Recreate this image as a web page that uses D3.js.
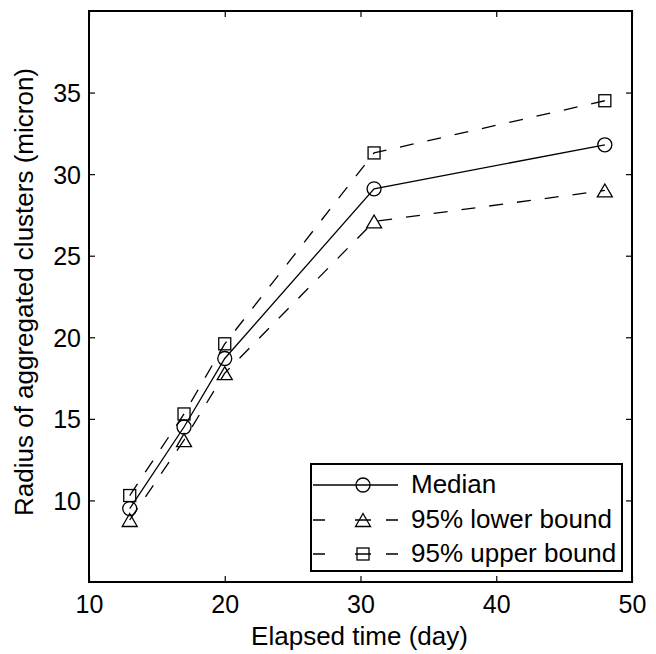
<!DOCTYPE html>
<html>
<head>
<meta charset="utf-8">
<script src="https://cdn.jsdelivr.net/npm/d3@7/dist/d3.min.js"></script>
<style>
  html, body { margin: 0; padding: 0; background: #fff; }
  svg { display: block; }
  text { font-family: "Liberation Sans", Arial, Helvetica, sans-serif; fill: #000; }
</style>
</head>
<body>
<svg id="chart" width="656" height="654"></svg>
<script>
// ---- Data ----
const days = [13, 17, 20, 31, 48];
const median = [9.5, 14.5, 18.7, 29.1, 31.8];
const lower95 = [8.8, 13.7, 17.8, 27.1, 29.0];
const upper95 = [10.3, 15.3, 19.6, 31.3, 34.5];
const xTicks = [10, 20, 30, 40, 50];
const yTicks = [10, 15, 20, 25, 30, 35];
const seriesNames = ["Median", "95% lower bound", "95% upper bound"];
const xLabel = "Elapsed time (day)";
const yLabel = "Radius of aggregated clusters (micron)";

// ---- Layout ----
const L = 89, T = 11, R = 632, B = 582;
const svg = d3.select("#chart");

const x = d3.scaleLinear().domain([10, 50]).range([L, R]);
const y = d3.scaleLinear().domain([5, 40]).range([B, T]);

const series = [
  { name: seriesNames[0], values: median, dash: null, marker: "circle" },
  { name: seriesNames[1], values: lower95, dash: "14,14", marker: "triangle" },
  { name: seriesNames[2], values: upper95, dash: "14,14", marker: "square" }
];

// ---- Axes (inward ticks on all four sides) ----
const tick = 6;
const gB = svg.append("g").attr("transform", `translate(0,${B})`)
  .call(d3.axisBottom(x).tickValues(xTicks).tickSizeInner(-tick).tickSizeOuter(0).tickFormat(d3.format("d")));
const gT = svg.append("g").attr("transform", `translate(0,${T})`)
  .call(d3.axisTop(x).tickValues(xTicks).tickSizeInner(-tick).tickSizeOuter(0).tickFormat(""));
const gL = svg.append("g").attr("transform", `translate(${L},0)`)
  .call(d3.axisLeft(y).tickValues(yTicks).tickSizeInner(-tick).tickSizeOuter(0).tickFormat(d3.format("d")));
const gR = svg.append("g").attr("transform", `translate(${R},0)`)
  .call(d3.axisRight(y).tickValues(yTicks).tickSizeInner(-tick).tickSizeOuter(0).tickFormat(""));

[gB, gT, gL, gR].forEach(g => {
  g.select(".domain").remove();
  g.selectAll(".tick line").attr("stroke", "#000").attr("stroke-width", 1.2);
});
gB.selectAll(".tick text").attr("y", 31).attr("dy", 0)
  .attr("font-size", 25).attr("font-family", null);
gL.selectAll(".tick text").attr("x", -8).attr("dy", "0.36em")
  .attr("font-size", 25).attr("font-family", null);

// Box
svg.append("rect")
  .attr("x", L).attr("y", T).attr("width", R - L).attr("height", B - T)
  .attr("fill", "none").attr("stroke", "#000").attr("stroke-width", 2);

// ---- Axis labels ----
svg.append("text")
  .attr("x", (L + R) / 2 - 1).attr("y", 645)
  .attr("text-anchor", "middle").attr("font-size", 26)
  .text(xLabel);
svg.append("text")
  .attr("transform", `translate(33,${292}) rotate(-90)`)
  .attr("text-anchor", "middle").attr("font-size", 26)
  .text(yLabel);

// ---- Markers ----
function drawMarker(g, type, cx, cy) {
  if (type === "circle") {
    g.append("circle").attr("cx", cx).attr("cy", cy).attr("r", 7)
      .attr("fill", "none").attr("stroke", "#000").attr("stroke-width", 1.3);
  } else if (type === "square") {
    g.append("rect").attr("x", cx - 6).attr("y", cy - 6).attr("width", 12).attr("height", 12)
      .attr("fill", "none").attr("stroke", "#000").attr("stroke-width", 1.3);
  } else {
    const h = 13, w = 15;
    g.append("path")
      .attr("d", `M${cx},${cy - h / 2}L${cx + w / 2},${cy + h / 2}L${cx - w / 2},${cy + h / 2}Z`)
      .attr("fill", "none").attr("stroke", "#000").attr("stroke-width", 1.3);
  }
}

// ---- Lines ----
const line = d3.line().x((d, i) => x(days[i])).y(d => y(d));
series.forEach(s => {
  const g = svg.append("g");
  g.append("path").datum(s.values)
    .attr("d", line)
    .attr("fill", "none").attr("stroke", "#000").attr("stroke-width", 1.3)
    .attr("stroke-dasharray", s.dash);
  s.values.forEach((v, i) => drawMarker(g, s.marker, x(days[i]), y(v)));
});

// ---- Legend ----
const lg = svg.append("g");
lg.append("rect").attr("x", 311).attr("y", 464).attr("width", 311).attr("height", 107)
  .attr("fill", "#fff").attr("stroke", "#000").attr("stroke-width", 2);
const rowY = [485, 520, 554];
series.forEach((s, i) => {
  const yy = rowY[i];
  lg.append("line").attr("x1", 313).attr("x2", 398).attr("y1", yy).attr("y2", yy)
    .attr("stroke", "#000").attr("stroke-width", 1.3)
    .attr("stroke-dasharray", s.dash ? "12,30,16,15,12" : null);
  drawMarker(lg, s.marker, 363, yy);
  lg.append("text").attr("x", 411).attr("y", yy + 8).attr("font-size", 26).text(s.name);
});
</script>
</body>
</html>
